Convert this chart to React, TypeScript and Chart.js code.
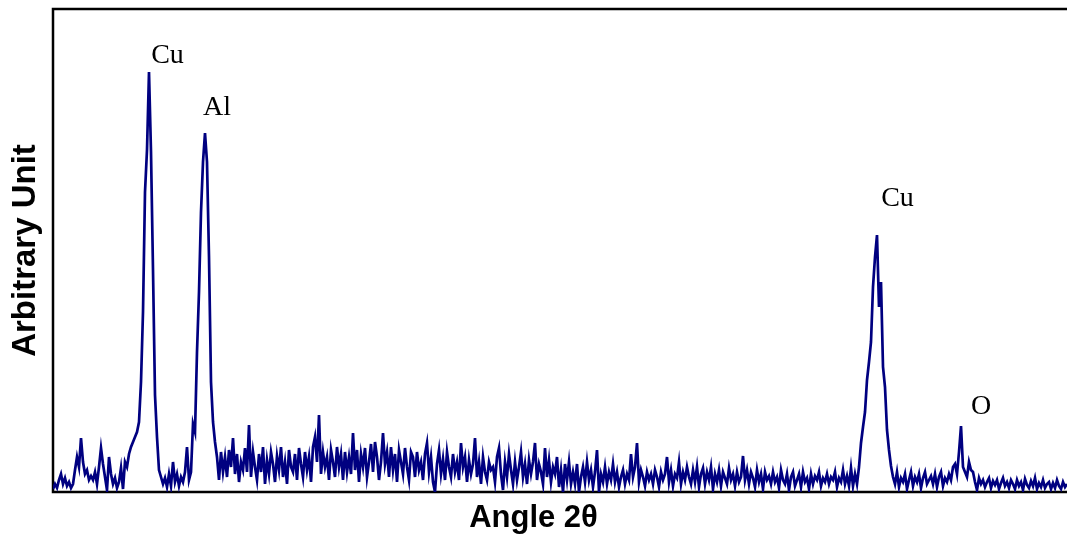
import { useEffect, useRef } from 'react';
import { Chart, registerables } from 'chart.js';

Chart.register(...registerables);

// Detector channel step between consecutive readings
const CHANNEL_STEP = 2;

// Intensity readings (arbitrary units), in channel order
const LOW_ANGLE = [
  3, 8, 4, 12, 18, 8, 14, 6, 10, 4, 8, 22, 35, 25, 54, 30, 18, 22, 12, 16,
  12, 20, 8, 25, 44, 28, 15, 2, 35, 18, 8, 14, 4, 10, 24, 3, 30, 25, 38, 45,
];
const CU_PEAK_1 = [50, 55, 60, 70, 110, 180, 300, 342, 420, 340, 222, 97, 55, 22, 15, 8, 14, 5, 18, 6];
const AL_PEAK = [30, 10, 18, 6, 15, 10, 20, 45, 12, 20, 68, 60, 140, 200, 280, 330, 359, 330, 235, 110];
const MID_NOISE_A = [
  70, 50, 35, 12, 40, 20, 35, 15, 42, 25, 54, 18, 38, 10, 30, 22, 44, 20, 67, 15,
  40, 25, 12, 38, 20, 45, 8, 32, 18, 40, 28, 10, 36, 22, 45, 15, 30, 8, 42, 25,
  20, 38, 12, 44, 28, 15, 40, 22, 35, 10, 45, 55, 30, 77, 18, 40, 25, 35, 12, 42,
  30, 15, 45, 25, 38, 12, 40, 20, 35, 18, 59, 22, 42, 10, 38, 25, 44, 15, 30, 48,
  20, 50, 35, 12, 30, 59, 28, 40, 15, 45, 22, 38, 10, 42, 30, 18, 44, 25, 12, 40,
  35, 15, 40, 22, 30, 12, 38, 49, 20, 35, 10, 0, 28, 42, 18, 33, 12, 40, 25, 15,
  38, 20, 30, 12, 49, 25, 35, 10, 32, 18, 28, 54, 15, 30, 8, 35, 20, 12, 30, 22,
  25, 10, 35, 44, 18, 2, 30, 15, 38, 22, 8, 30, 12, 25, 40, 15, 28, 8, 32, 18,
];
const MID_NOISE_B = [
  30, 49, 12, 28, 20, 8, 44, 15, 32, 10, 25, 18, 35, 5, 22, 0, 28, 12, 30, 8,
  20, 8, 28, 0, 15, 25, 10, 30, 12, 22, 5, 20, 42, 0, 18, 10, 25, 8, 20, 12,
  28, 10, 20, 5, 15, 22, 8, 18, 12, 38, 15, 25, 49, 10, 22, 15, 6, 20, 12, 18,
  8, 22, 15, 5, 20, 12, 18, 35, 10, 22, 6, 18, 14, 30, 8, 20, 12, 25, 15, 8,
  22, 10, 25, 5, 18, 24, 8, 20, 12, 25, 3, 18, 10, 22, 6, 20, 14, 8, 24, 12,
  18, 6, 20, 10, 15, 36, 12, 22, 8, 20, 14, 5, 22, 10, 18, 3, 20, 12, 16, 8,
  20, 10, 15, 4, 22, 12, 8, 18, 2, 15, 20, 6, 12, 18, 5, 20, 10, 14, 3, 18,
  8, 16, 12, 20, 6, 14, 10, 18, 8, 15, 12, 20, 5, 14, 10, 22, 8, 16, 6, 24,
];
const CU_PEAK_2 = [6, 18, 8, 25, 49, 65, 80, 112, 130, 150, 205, 235, 257, 185, 210, 125, 105, 62, 42, 26];
const O_REGION = [
  15, 8, 20, 5, 14, 10, 18, 3, 12, 20, 6, 15, 10, 18, 4, 14, 20, 8, 12, 16,
  8, 18, 5, 15, 20, 6, 14, 10, 18, 12, 25, 28, 18, 40, 66, 25, 20, 15, 30, 22,
];
const HIGH_ANGLE = [
  20, 10, 2, 14, 8, 12, 5, 10, 14, 4, 11, 7, 12, 3, 9, 14, 6, 10, 4, 12,
  8, 3, 12, 6, 10, 2, 13, 7, 4, 11, 6, 14, 3, 9, 5, 12, 4, 8, 10, 3,
  9, 4, 12, 6, 3, 10, 5, 8,
];

// Peak labels: text, channel, intensity at the label baseline
const PEAK_LABELS = ['Cu', 'Al', 'Cu', 'O'];
const PEAK_LABEL_CHANNELS = [114.5, 164, 844.5, 928];
const PEAK_LABEL_LEVELS = [429, 377, 286, 78];

const X_MAX = 1014;
const Y_MAX = 483;

const NAVY = '#000080';

export default function App() {
  const ref = useRef<HTMLCanvasElement>(null);

  useEffect(() => {
    const intensities = [
      ...LOW_ANGLE,
      ...CU_PEAK_1,
      ...AL_PEAK,
      ...MID_NOISE_A,
      ...MID_NOISE_B,
      ...CU_PEAK_2,
      ...O_REGION,
      ...HIGH_ANGLE,
    ];
    const points = intensities.map((v, i) => ({ x: i * CHANNEL_STEP, y: v }));

    const framePlugin = {
      id: 'frame',
      beforeDatasetsDraw(chart: any) {
        const { ctx, chartArea } = chart;
        const { left, top, right, bottom } = chartArea;
        ctx.save();
        ctx.strokeStyle = '#000';
        ctx.lineWidth = 2.5;
        ctx.beginPath();
        ctx.moveTo(right + 5, top);
        ctx.lineTo(left, top);
        ctx.lineTo(left, bottom);
        ctx.lineTo(right + 5, bottom);
        ctx.stroke();
        ctx.restore();
      },
    };

    const labelPlugin = {
      id: 'peakLabels',
      afterDatasetsDraw(chart: any) {
        const { ctx, scales } = chart;
        ctx.save();
        ctx.fillStyle = '#000';
        ctx.font = '28px "Liberation Serif", "Times New Roman", serif';
        ctx.textAlign = 'center';
        ctx.textBaseline = 'alphabetic';
        PEAK_LABELS.forEach((t, i) => {
          const x = scales.x.getPixelForValue(PEAK_LABEL_CHANNELS[i]);
          const y = scales.y.getPixelForValue(PEAK_LABEL_LEVELS[i]);
          ctx.fillText(t, x, y);
        });
        ctx.restore();
      },
    };

    const chart = new Chart(ref.current!, {
      type: 'line',
      data: {
        datasets: [
          {
            data: points,
            borderColor: NAVY,
            borderWidth: 2.7,
            pointRadius: 0,
            tension: 0,
            fill: false,
          },
        ],
      },
      options: {
        responsive: false,
        animation: false,
        devicePixelRatio: 1,
        layout: { padding: { top: 9, left: 0, right: 0, bottom: 0 } },
        plugins: {
          legend: { display: false },
          tooltip: { enabled: false },
          title: {
            display: true,
            position: 'bottom',
            text: 'Angle 2θ',
            color: '#000',
            font: { family: '"Liberation Sans", Arial, sans-serif', size: 31, weight: 'bold' },
            padding: { top: 7.7, bottom: 2.1 },
          },
        },
        scales: {
          x: {
            type: 'linear',
            min: 0,
            max: X_MAX,
            display: false,
          },
          y: {
            type: 'linear',
            min: 0,
            max: Y_MAX,
            ticks: { display: false },
            grid: { display: false, drawTicks: false },
            border: { display: false },
            title: {
              display: true,
              text: 'Arbitrary Unit',
              color: '#000',
              font: { family: '"Liberation Sans", Arial, sans-serif', size: 33, weight: 'bold' },
              padding: { top: 6, bottom: 0 },
            },
            afterFit: (scale: any) => {
              scale.width = 53;
            },
          },
        },
      } as any,
      plugins: [framePlugin, labelPlugin],
    });

    return () => chart.destroy();
  }, []);

  return (
    <div style={{ position: 'fixed', left: 0, top: 0, width: 1067, height: 539, background: '#fff' }}>
      <canvas ref={ref} width={1067} height={539} style={{ display: 'block', width: 1067, height: 539 }} />
    </div>
  );
}
